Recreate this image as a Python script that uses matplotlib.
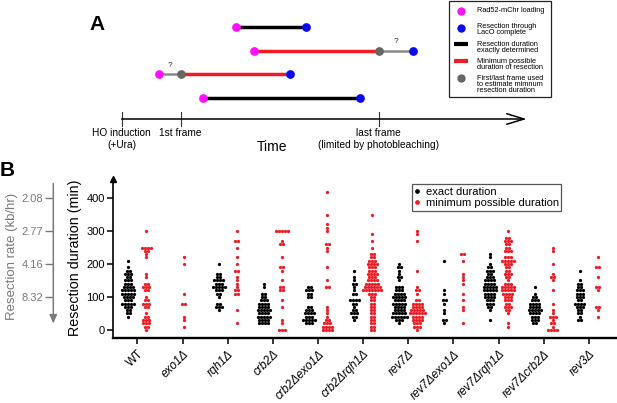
import numpy as np
import matplotlib
matplotlib.use('Agg')
import matplotlib.pyplot as plt
from matplotlib.lines import Line2D
from matplotlib.patches import Rectangle
import matplotlib.transforms as mtransforms

plt.rcParams['font.family'] = ['Liberation Sans', 'DejaVu Sans']

W, H, DPI = 617, 403, 100

# ---------------- Panel A : schematic (arbitrary time units, HO induction = 0) ----------------
FIRST_FRAME = 59
LAST_FRAME = 257
TIME_END = 405
LOAD_T = [114, 132, 37, 81]     # Rad52-mChr loading
DONE_T = [184, 291, 168, 238]   # resection through LacO complete
ROW_KIND = ['exact', 'late', 'early', 'exact']

# ---------------- Panel B : resection durations (min) -> count of cells ----------------
GENOTYPES = ['WT', 'exo1Δ', 'rqh1Δ', 'crb2Δ', 'crb2Δexo1Δ', 'crb2Δrqh1Δ',
             'rev7Δ', 'rev7Δexo1Δ', 'rev7Δrqh1Δ', 'rev7Δcrb2Δ', 'rev3Δ']

WT_EXACT = {210: 1, 190: 1, 180: 2, 170: 3, 160: 2, 150: 3, 140: 3, 130: 4, 120: 5,
            110: 5, 100: 4, 90: 3, 80: 5, 70: 3, 60: 2, 50: 2, 40: 1}
WT_MIN = {300: 1, 250: 4, 240: 2, 230: 1, 220: 1, 170: 1, 160: 1, 140: 2, 130: 3,
          120: 2, 100: 1, 90: 2, 80: 3, 70: 2, 50: 1, 40: 2, 30: 3, 20: 3, 10: 2, 0: 1}
EXO1_EXACT = {}
EXO1_MIN = {220: 1, 200: 1, 110: 1, 80: 2, 40: 1, 30: 1, 10: 1}
RQH1_EXACT = {200: 1, 170: 2, 160: 2, 150: 4, 140: 3, 130: 5, 120: 3, 110: 2, 100: 1,
              80: 2, 70: 3, 60: 1}
RQH1_MIN = {300: 1, 270: 2, 250: 1, 220: 1, 200: 1, 180: 2, 160: 1, 150: 1, 140: 1,
            130: 1, 120: 2, 110: 2, 60: 1, 20: 1}
CRB2_EXACT = {140: 1, 130: 1, 110: 2, 100: 2, 90: 3, 80: 4, 70: 4, 60: 5, 50: 4,
              40: 5, 30: 4, 20: 4}
CRB2_MIN = {300: 5, 270: 1, 260: 2, 220: 1, 190: 2, 180: 1, 150: 1, 130: 2, 120: 2,
            90: 1, 70: 1, 30: 1, 20: 1, 0: 3}
CRB2EXO1_EXACT = {130: 2, 120: 3, 110: 2, 100: 2, 70: 2, 60: 3, 50: 4, 40: 3, 30: 5, 20: 3}
CRB2EXO1_MIN = {420: 1, 350: 1, 320: 1, 310: 1, 300: 1, 260: 2, 250: 1, 240: 1, 190: 1,
                150: 1, 130: 2, 70: 1, 60: 1, 50: 1, 40: 1, 30: 2, 20: 3, 10: 4, 0: 4}
CRB2RQH1_EXACT = {180: 1, 160: 1, 150: 1, 140: 2, 130: 1, 120: 1, 110: 2, 90: 4, 80: 2,
                  70: 1, 60: 2, 50: 3, 40: 2, 30: 1}
CRB2RQH1_MIN = {350: 1, 290: 1, 270: 1, 250: 1, 230: 2, 220: 2, 210: 3, 200: 4, 190: 3,
                180: 3, 170: 4, 160: 3, 150: 4, 140: 5, 130: 6, 120: 7, 110: 3, 100: 2,
                90: 2, 80: 2, 70: 2, 60: 2, 50: 2, 40: 2, 30: 2, 20: 2, 10: 2, 0: 2}
REV7_EXACT = {200: 1, 190: 2, 180: 1, 170: 1, 160: 2, 150: 1, 130: 3, 120: 3, 110: 4,
              100: 5, 90: 4, 80: 5, 70: 4, 60: 4, 50: 5, 40: 6, 30: 3, 20: 1}
REV7_MIN = {300: 1, 290: 1, 270: 1, 180: 1, 130: 1, 120: 2, 110: 1, 90: 2, 80: 4, 70: 4,
            60: 5, 50: 6, 40: 4, 30: 4, 20: 3, 10: 3, 0: 1}
REV7EXO1_EXACT = {210: 1, 120: 1, 110: 1, 90: 2, 80: 1, 60: 1, 50: 1, 30: 2, 20: 1}
REV7EXO1_MIN = {230: 2, 210: 1, 170: 1, 160: 1, 150: 1, 140: 1, 110: 1, 90: 1, 70: 1,
                60: 1, 20: 1}
REV7RQH1_EXACT = {230: 1, 220: 1, 200: 1, 190: 2, 180: 3, 170: 2, 160: 3, 150: 4, 140: 4,
                  130: 5, 120: 5, 110: 4, 100: 4, 90: 3, 80: 3, 70: 2, 60: 1, 30: 1}
REV7RQH1_MIN = {300: 1, 280: 2, 270: 3, 260: 2, 250: 2, 240: 3, 220: 3, 210: 5, 200: 3,
                190: 2, 180: 2, 170: 3, 160: 2, 150: 1, 140: 3, 130: 5, 120: 5, 110: 4,
                100: 3, 90: 3, 80: 2, 70: 3, 60: 2, 50: 1, 20: 1, 10: 1}
REV7CRB2_EXACT = {130: 1, 110: 1, 100: 2, 90: 3, 80: 4, 70: 4, 60: 5, 50: 4, 40: 3,
                  30: 3, 20: 2}
REV7CRB2_MIN = {250: 1, 240: 1, 200: 1, 170: 1, 160: 2, 150: 1, 120: 1, 80: 1, 60: 1,
                50: 1, 40: 3, 30: 1, 20: 2, 10: 1, 0: 4}
REV3_EXACT = {180: 1, 150: 1, 140: 2, 130: 2, 120: 3, 110: 3, 100: 3, 90: 2, 80: 4,
              70: 3, 60: 2, 50: 2, 40: 1, 30: 2}
REV3_MIN = {220: 1, 190: 2, 160: 1, 130: 2, 120: 1, 70: 2, 60: 1, 40: 1}

EXACT_SERIES = [WT_EXACT, EXO1_EXACT, RQH1_EXACT, CRB2_EXACT, CRB2EXO1_EXACT, CRB2RQH1_EXACT,
                REV7_EXACT, REV7EXO1_EXACT, REV7RQH1_EXACT, REV7CRB2_EXACT, REV3_EXACT]
MIN_SERIES = [WT_MIN, EXO1_MIN, RQH1_MIN, CRB2_MIN, CRB2EXO1_MIN, CRB2RQH1_MIN,
              REV7_MIN, REV7EXO1_MIN, REV7RQH1_MIN, REV7CRB2_MIN, REV3_MIN]

DUR_TICKS = [0, 100, 200, 300, 400]
RATE_TICK_DUR = [100, 200, 300, 400]
LACO_KB_MIN = 832.0   # kb*min/hr : rate (kb/hr) = 832 / duration (min)

# ---------------- colours ----------------
C_MAG = '#ff10ff'
C_BLUE = '#0a0af0'
C_GREYDOT = '#666666'
C_GREYLINE = '#8a8a8a'
C_RED = '#ee1c24'
C_AXGREY = '#7a7a7a'

fig = plt.figure(figsize=(W / DPI, H / DPI), dpi=DPI)

# ======================= Panel A =======================
T0 = 121.7
axA = fig.add_axes([0, 1 - 165 / H, 1, 165 / H])
axA.set_xlim(-T0, W - T0)
axA.set_ylim(165, 0)
axA.axis('off')
ROW_Y = [26.7, 50.7, 74.3, 98.3]
LW_THICK = 2.5
LW_GREY = 1.8
MS = 6.3
for y, t0, t1, kind in zip(ROW_Y, LOAD_T, DONE_T, ROW_KIND):
    if kind == 'exact':
        axA.plot([t0, t1], [y, y], color='k', lw=LW_THICK, solid_capstyle='butt', zorder=2)
    elif kind == 'late':
        axA.plot([t0, LAST_FRAME], [y, y], color=C_RED, lw=LW_THICK, solid_capstyle='butt', zorder=2)
        axA.plot([LAST_FRAME, t1], [y, y], color=C_GREYLINE, lw=LW_GREY, zorder=2)
        axA.plot([LAST_FRAME], [y], 'o', color=C_GREYDOT, ms=MS, mec='none', zorder=3)
        axA.text((LAST_FRAME + t1) / 2, y - 5.5, '?', fontsize=6, ha='center', va='bottom', color='#333333')
    else:
        axA.plot([t0, FIRST_FRAME], [y, y], color=C_GREYLINE, lw=LW_GREY, zorder=2)
        axA.plot([FIRST_FRAME, t1], [y, y], color=C_RED, lw=LW_THICK, solid_capstyle='butt', zorder=2)
        axA.plot([FIRST_FRAME], [y], 'o', color=C_GREYDOT, ms=MS, mec='none', zorder=3)
        axA.text((FIRST_FRAME + t0) / 2, y - 5.5, '?', fontsize=6, ha='center', va='bottom', color='#333333')
    axA.plot([t0], [y], 'o', color=C_MAG, ms=MS, mec='none', zorder=3)
    axA.plot([t1], [y], 'o', color=C_BLUE, ms=MS, mec='none', zorder=3)

# time line
TL_Y = 119
axA.annotate('', xy=(TIME_END, TL_Y), xytext=(0, TL_Y),
             arrowprops=dict(arrowstyle='->,head_length=1.25,head_width=0.38', lw=1.1, color='k',
                             shrinkA=0, shrinkB=0), annotation_clip=False)
for t in [0, FIRST_FRAME, LAST_FRAME]:
    axA.plot([t, t], [112, 126], color='#333333', lw=0.8)
axA.text(0, 132.7, 'HO induction', ha='center', va='center', fontsize=7.3)
axA.text(0, 145.3, '(+Ura)', ha='center', va='center', fontsize=7.3)
axA.text(FIRST_FRAME, 132.7, '1st frame', ha='center', va='center', fontsize=7.3)
axA.text(LAST_FRAME, 132.7, 'last frame', ha='center', va='center', fontsize=7.3)
axA.text(LAST_FRAME, 145.3, '(limited by photobleaching)', ha='center', va='center', fontsize=7.3)
axA.text(272 - T0, 146.7, 'Time', ha='center', va='center', fontsize=10)

# legend box of panel A
LX0, LX1, LY0, LY1 = 449.3 - T0, 550.7 - T0, 0.6, 97.3
axA.add_patch(Rectangle((LX0, LY0), LX1 - LX0, LY1 - LY0, fill=False, ec='#222222', lw=0.9, zorder=1))
MX, TX = 460.7 - T0, 476.7 - T0
leg_items = [
    ('dot', C_MAG, 10.7, 'Rad52-mChr loading'),
    ('dot', C_BLUE, 28.0, 'Resection through\nLacO complete'),
    ('bar', 'k', 44.3, 'Resection duration\nexactly determined'),
    ('bar', C_RED, 61.0, 'Minimum possible\nduration of resection'),
    ('dot', C_GREYDOT, 78.0, 'First/last frame used\nto estimate mimnum\nresection duration'),
]
text_y = [10.7, 26.7, 44.3, 61.3, 78.3]
for (kind, col, my, label), ty in zip(leg_items, text_y):
    if kind == 'dot':
        axA.plot([MX], [my], 'o', color=col, ms=6.0, mec='none')
    else:
        axA.plot([MX - 7, MX + 7], [my, my], color=col, lw=3.0, solid_capstyle='butt')
    axA.text(TX, ty - 3.6, label, ha='left', va='top', fontsize=5.3, linespacing=0.88)

fig.text(97 / W, 1 - 24 / H, 'A', fontsize=15, fontweight='bold', ha='center', va='center')
fig.text(7.5 / W, 1 - 171 / H, 'B', fontsize=15, fontweight='bold', ha='center', va='center')

# ======================= Panel B =======================
L, R, B_, T_ = 113.3, 616.0, 338.3, 179.0
axB = fig.add_axes([L / W, 1 - B_ / H, (R - L) / W, (B_ - T_) / H])
axB.set_xlim(-0.535, 10.6)
axB.set_ylim(-25.5, 458)
for s in ['top', 'right']:
    axB.spines[s].set_visible(False)
axB.spines['left'].set_linewidth(1.2)
axB.spines['bottom'].set_linewidth(1.7)

DX = 3.0 / 45.2
OFF = 0.2


def swarm(center, counts):
    xs, ys = [], []
    for v, n in counts.items():
        for j in range(n):
            xs.append(center + (j - (n - 1) / 2) * DX)
            ys.append(v)
    return xs, ys


for i, (ex, mn) in enumerate(zip(EXACT_SERIES, MIN_SERIES)):
    if ex:
        xs, ys = swarm(i - OFF, ex)
        axB.scatter(xs, ys, s=5.5, color='k', linewidths=0, zorder=3)
        xr = i + OFF
    else:
        xr = i + 0.02
    xs, ys = swarm(xr, mn)
    axB.scatter(xs, ys, s=5.5, color=C_RED, linewidths=0, zorder=3)

axB.set_yticks(DUR_TICKS)
axB.tick_params(axis='y', length=4, width=1.1, labelsize=8, pad=2)
axB.tick_params(axis='x', length=4, width=1.1, pad=3)
axB.set_xticks(range(len(GENOTYPES)))
axB.set_xticklabels(GENOTYPES, rotation=45, ha='right', va='top', rotation_mode='anchor', fontsize=8.5)
for lab in axB.get_xticklabels():
    if lab.get_text() != 'WT':
        lab.set_fontstyle('italic')
axB.plot([0], [1], marker='^', ms=4, color='k', transform=axB.transAxes, clip_on=False, zorder=5)

fig.text(75 / W, 1 - 258 / H, 'Resection duration (min)', rotation=90, ha='center', va='center', fontsize=10.3)

# secondary (rate) axis
XPOS = (53.3 - L) / (R - L)
sec = axB.secondary_yaxis(location=XPOS)
sec.spines['left'].set_visible(False)
sec.set_yticks(RATE_TICK_DUR)
sec.set_yticklabels([f'{LACO_KB_MIN / d:.2f}' for d in RATE_TICK_DUR])
sec.tick_params(axis='y', colors=C_AXGREY, length=6, width=1.0, labelsize=8, pad=1.5)
blend = mtransforms.blended_transform_factory(axB.transAxes, axB.transData)
axB.annotate('', xy=(XPOS, 19.5), xytext=(XPOS, 444), xycoords=blend, textcoords=blend,
             arrowprops=dict(arrowstyle='-|>,head_length=0.5,head_width=0.22', color=C_AXGREY, lw=1.1,
                             shrinkA=0, shrinkB=0, mutation_scale=10), annotation_clip=False)
fig.text(11.7 / W, 1 - 256.7 / H, 'Resection rate (kb/hr)', rotation=90, ha='center', va='center',
         fontsize=9.5, color=C_AXGREY)

# legend of panel B
handles = [Line2D([], [], ls='none', marker='o', ms=3.4, color='k', mec='none'),
           Line2D([], [], ls='none', marker='o', ms=3.4, color=C_RED, mec='none')]
leg = fig.legend(handles, ['exact duration', 'minimum possible duration'], loc='upper left',
                 bbox_to_anchor=(411.7 / W, 1 - 184 / H), frameon=True, fancybox=False,
                 edgecolor='#555555', fontsize=8, handlelength=0.5, handletextpad=0.5,
                 borderpad=0.25, labelspacing=0.1, borderaxespad=0, framealpha=1)
leg.get_frame().set_linewidth(0.9)

fig.savefig('out.png', dpi=DPI)
